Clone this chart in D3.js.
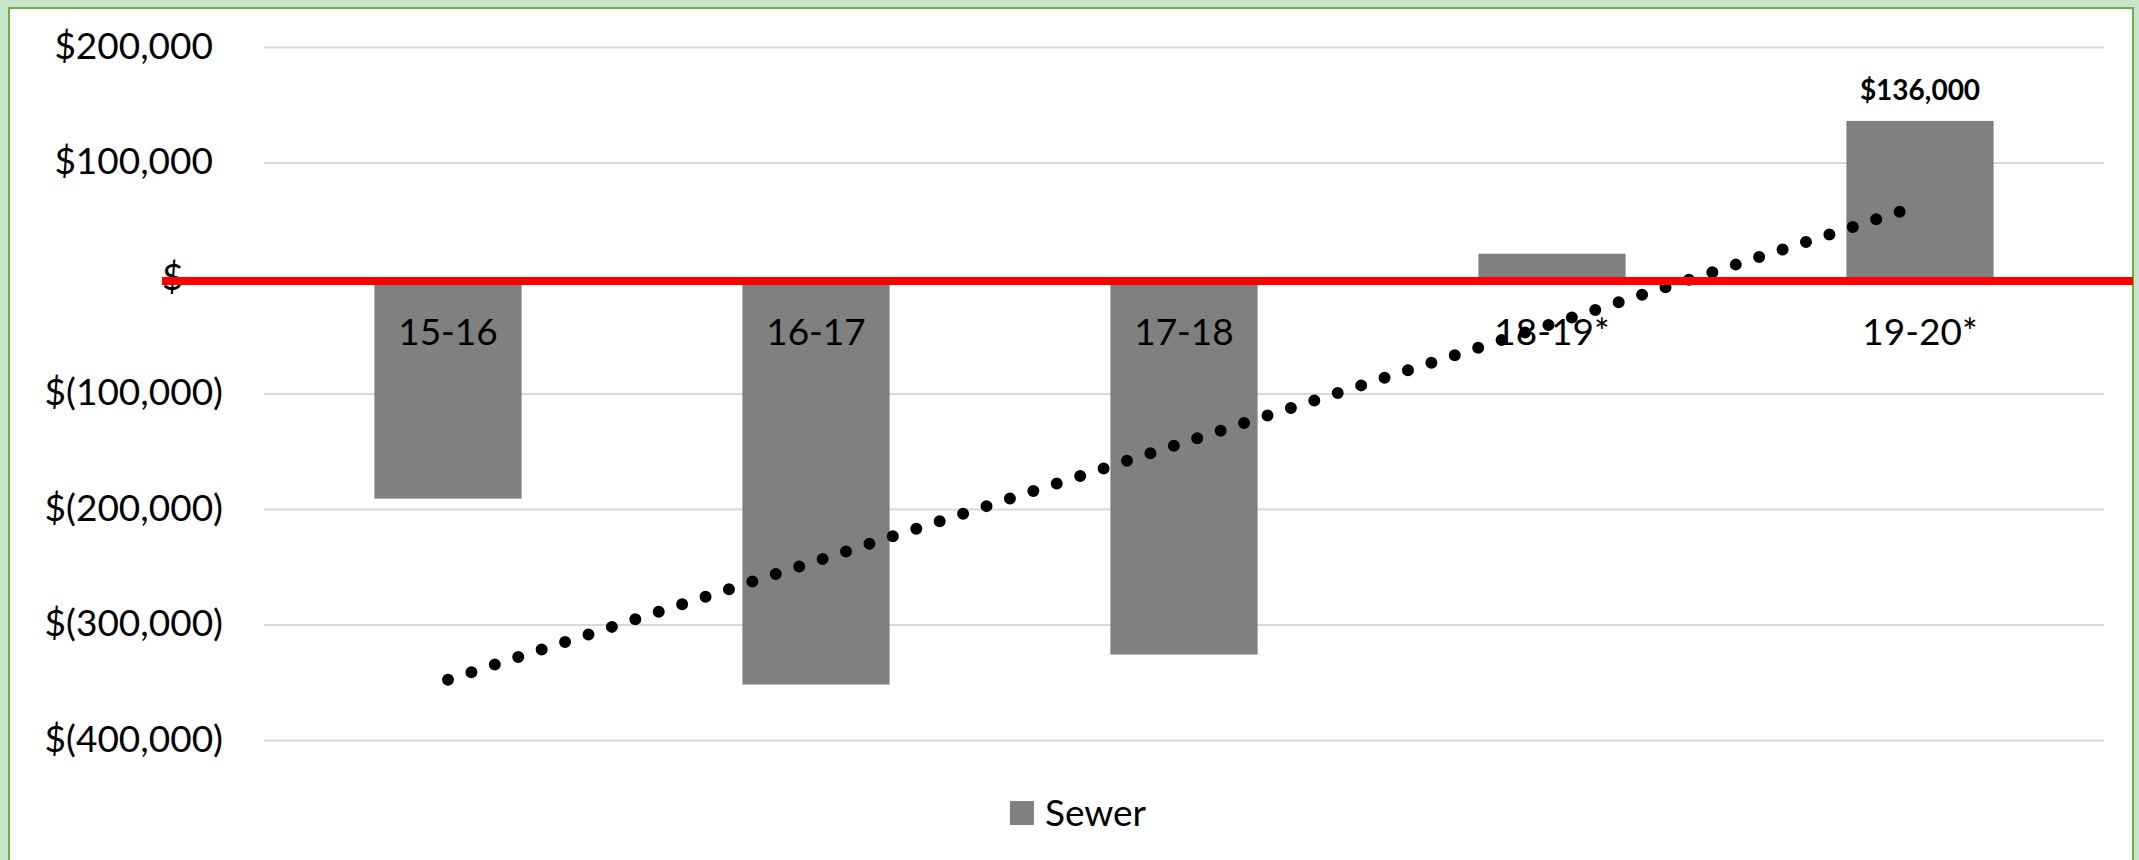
<!DOCTYPE html>
<html>
<head>
<meta charset="utf-8">
<script src="https://cdn.jsdelivr.net/npm/d3@7"></script>
<style>
  html, body { margin: 0; padding: 0; background: #c6e5c9; overflow: hidden; }
  svg text { font-family: Lato, "Noto Sans", sans-serif; fill: #000; }
</style>
</head>
<body>
<div id="chart"></div>
<script>
// data
const years = ["15-16", "16-17", "17-18", "18-19*", "19-20*"];
const sewer = [-191000, -352000, -326000, 21000, 136000];
const yTicks = [200000, 100000, 0, -100000, -200000, -300000, -400000];
const labelledYears = ["19-20*"];
const seriesName = "Sewer";

const W = 2139, H = 860;
const plot = { left: 264, right: 2104, top: 47, bottom: 740 };

const svg = d3.select("#chart")
    .append("svg")
    .attr("width", W)
    .attr("height", H);

// white chart area with green frame
svg.append("rect")
    .attr("x", 9).attr("y", 8)
    .attr("width", 2124).attr("height", H)
    .attr("fill", "#fff")
    .attr("stroke", "#70ad47")
    .attr("stroke-width", 2);

const x = d3.scaleBand()
    .domain(years)
    .range([plot.left, plot.right])
    .paddingInner(0.6)
    .paddingOuter(0.3);

const y = d3.scaleLinear()
    .domain([-400000, 200000])
    .range([plot.bottom, plot.top]);

const money = d3.format(",.0f");
const fmt = v => v === 0 ? "$ -" : v < 0 ? `$(${money(-v)})` : `$${money(v)}`;

// y axis + gridlines
const yAxis = svg.append("g")
    .attr("transform", `translate(${plot.left},0)`)
    .call(d3.axisLeft(y)
        .tickValues(yTicks)
        .tickFormat(fmt)
        .tickSize(-(plot.right - plot.left))
        .tickPadding(41))
    .attr("font-size", 37);
yAxis.select(".domain").remove();
yAxis.selectAll(".tick line")
    .attr("stroke", "#d9d9d9")
    .attr("stroke-width", 2);
yAxis.selectAll(".tick text")
    .attr("dy", "0.3em")
    .attr("dx", d => d > 0 ? -10 : 0)
    .filter(d => d === 0)
    .attr("text-anchor", "start")
    .attr("x", 162 - plot.left);

// bars
svg.append("g")
    .selectAll("rect")
    .data(years)
    .join("rect")
    .attr("x", d => x(d))
    .attr("width", x.bandwidth())
    .attr("y", (d, i) => y(Math.max(0, sewer[i])))
    .attr("height", (d, i) => Math.abs(y(sewer[i]) - y(0)))
    .attr("fill", "#808080");

// category labels under zero line
svg.append("g")
    .selectAll("text")
    .data(years)
    .join("text")
    .attr("x", d => x(d) + x.bandwidth() / 2)
    .attr("y", y(0) + 67)
    .attr("text-anchor", "middle")
    .style("font-size", "37px")
    .text(d => d);

// linear trendline (least squares over the bars)
const xs = years.map((d, i) => i + 1);
const mx = d3.mean(xs), my = d3.mean(sewer);
const slope = d3.sum(xs, (v, i) => (v - mx) * (sewer[i] - my)) / d3.sum(xs, v => (v - mx) ** 2);
const trend = xs.map(v => my + slope * (v - mx));

svg.append("path")
    .datum(trend)
    .attr("d", d3.line()
        .x((d, i) => x(years[i]) + x.bandwidth() / 2)
        .y(d => y(d)))
    .attr("fill", "none")
    .attr("stroke", "#000")
    .attr("stroke-width", 12)
    .attr("stroke-linecap", "round")
    .attr("stroke-dasharray", "0 24.6");

// data label
svg.append("g")
    .selectAll("text")
    .data(labelledYears)
    .join("text")
    .attr("x", d => x(d) + x.bandwidth() / 2)
    .attr("y", d => y(sewer[years.indexOf(d)]) - 21)
    .attr("text-anchor", "middle")
    .style("font-size", "28px")
    .style("font-weight", "bold")
    .text(d => fmt(sewer[years.indexOf(d)]));

// red zero line on top
svg.append("line")
    .attr("x1", 162).attr("x2", 2133)
    .attr("y1", y(0) + 3).attr("y2", y(0) + 3)
    .attr("stroke", "#ff0000")
    .attr("stroke-width", 8);

// legend
const legend = svg.append("g");
const legText = legend.append("text")
    .attr("x", 35)
    .attr("y", 826)
    .style("font-size", "37px")
    .text(seriesName);
legend.append("rect")
    .attr("x", 0).attr("y", 801)
    .attr("width", 24).attr("height", 24)
    .attr("fill", "#808080");
const legW = 35 + legText.node().getComputedTextLength();
legend.attr("transform", `translate(${1078 - legW / 2},0)`);
</script>
</body>
</html>
